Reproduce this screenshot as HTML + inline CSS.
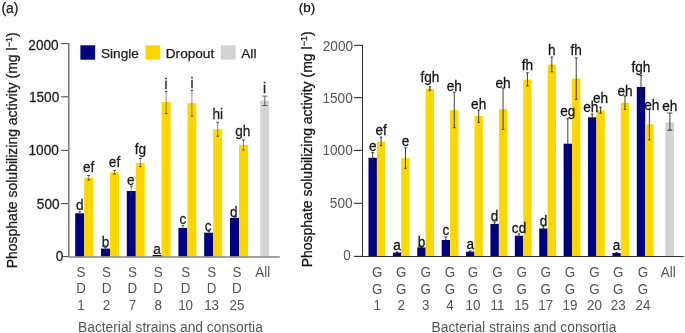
<!DOCTYPE html>
<html><head><meta charset="utf-8"><style>
html,body{margin:0;padding:0;background:#fff;width:685px;height:333px;overflow:hidden}
svg{display:block;font-family:'Liberation Sans', sans-serif}
.tx{filter:grayscale(1)}
.tx text{stroke:currentColor;stroke-width:0.25px}
.tx text[fill="#555"]{stroke:none}
</style></head><body>
<svg width="685" height="333" viewBox="0 0 685 333">
<rect width="685" height="333" fill="#fff"/>
<line x1="68.80" y1="43.10" x2="68.80" y2="257.10" stroke="#6e6e6e" stroke-width="1.4"/>
<line x1="61.20" y1="43.60" x2="68.30" y2="43.60" stroke="#4a4a4a" stroke-width="1.1"/>
<line x1="61.20" y1="96.80" x2="68.30" y2="96.80" stroke="#4a4a4a" stroke-width="1.1"/>
<line x1="61.20" y1="150.40" x2="68.30" y2="150.40" stroke="#4a4a4a" stroke-width="1.1"/>
<line x1="61.20" y1="203.60" x2="68.30" y2="203.60" stroke="#4a4a4a" stroke-width="1.1"/>
<line x1="62.80" y1="256.60" x2="68.30" y2="256.60" stroke="#4a4a4a" stroke-width="1.1"/>
<rect x="75.20" y="213.30" width="9.00" height="43.30" fill="#000080"/>
<rect x="84.20" y="177.80" width="9.00" height="78.80" fill="#FFD700"/>
<line x1="79.70" y1="211.80" x2="79.70" y2="214.80" stroke="#3a3a3a" stroke-width="0.6"/>
<line x1="78.40" y1="211.80" x2="81.00" y2="211.80" stroke="#1e1e1e" stroke-width="0.85"/>
<line x1="78.40" y1="214.80" x2="81.00" y2="214.80" stroke="#1e1e1e" stroke-width="0.85"/>
<line x1="88.70" y1="175.50" x2="88.70" y2="180.00" stroke="#3a3a3a" stroke-width="0.6"/>
<line x1="87.40" y1="175.50" x2="90.00" y2="175.50" stroke="#1e1e1e" stroke-width="0.85"/>
<line x1="87.40" y1="180.00" x2="90.00" y2="180.00" stroke="#1e1e1e" stroke-width="0.85"/>
<rect x="101.00" y="248.60" width="9.00" height="8.00" fill="#000080"/>
<rect x="110.00" y="172.40" width="9.00" height="84.20" fill="#FFD700"/>
<line x1="105.50" y1="247.60" x2="105.50" y2="249.60" stroke="#3a3a3a" stroke-width="0.6"/>
<line x1="104.20" y1="247.60" x2="106.80" y2="247.60" stroke="#1e1e1e" stroke-width="0.85"/>
<line x1="104.20" y1="249.60" x2="106.80" y2="249.60" stroke="#1e1e1e" stroke-width="0.85"/>
<line x1="114.50" y1="170.40" x2="114.50" y2="174.00" stroke="#3a3a3a" stroke-width="0.6"/>
<line x1="113.20" y1="170.40" x2="115.80" y2="170.40" stroke="#1e1e1e" stroke-width="0.85"/>
<line x1="113.20" y1="174.00" x2="115.80" y2="174.00" stroke="#1e1e1e" stroke-width="0.85"/>
<rect x="126.80" y="191.00" width="9.00" height="65.60" fill="#000080"/>
<rect x="135.80" y="163.00" width="9.00" height="93.60" fill="#FFD700"/>
<line x1="131.30" y1="186.10" x2="131.30" y2="195.10" stroke="#3a3a3a" stroke-width="0.6"/>
<line x1="130.00" y1="186.10" x2="132.60" y2="186.10" stroke="#1e1e1e" stroke-width="0.85"/>
<line x1="130.00" y1="195.10" x2="132.60" y2="195.10" stroke="#1e1e1e" stroke-width="0.85"/>
<line x1="140.30" y1="158.50" x2="140.30" y2="166.60" stroke="#3a3a3a" stroke-width="0.6"/>
<line x1="139.00" y1="158.50" x2="141.60" y2="158.50" stroke="#1e1e1e" stroke-width="0.85"/>
<line x1="139.00" y1="166.60" x2="141.60" y2="166.60" stroke="#1e1e1e" stroke-width="0.85"/>
<rect x="152.60" y="255.00" width="9.00" height="1.60" fill="#000080"/>
<rect x="161.60" y="102.00" width="9.00" height="154.60" fill="#FFD700"/>
<line x1="166.10" y1="91.30" x2="166.10" y2="113.40" stroke="#3a3a3a" stroke-width="0.6"/>
<line x1="164.80" y1="91.30" x2="167.40" y2="91.30" stroke="#1e1e1e" stroke-width="0.85"/>
<line x1="164.80" y1="113.40" x2="167.40" y2="113.40" stroke="#1e1e1e" stroke-width="0.85"/>
<rect x="178.40" y="227.90" width="9.00" height="28.70" fill="#000080"/>
<rect x="187.40" y="103.20" width="9.00" height="153.40" fill="#FFD700"/>
<line x1="182.90" y1="225.60" x2="182.90" y2="230.20" stroke="#3a3a3a" stroke-width="0.6"/>
<line x1="181.60" y1="225.60" x2="184.20" y2="225.60" stroke="#1e1e1e" stroke-width="0.85"/>
<line x1="181.60" y1="230.20" x2="184.20" y2="230.20" stroke="#1e1e1e" stroke-width="0.85"/>
<line x1="191.90" y1="90.30" x2="191.90" y2="116.20" stroke="#3a3a3a" stroke-width="0.6"/>
<line x1="190.60" y1="90.30" x2="193.20" y2="90.30" stroke="#1e1e1e" stroke-width="0.85"/>
<line x1="190.60" y1="116.20" x2="193.20" y2="116.20" stroke="#1e1e1e" stroke-width="0.85"/>
<rect x="204.20" y="232.70" width="9.00" height="23.90" fill="#000080"/>
<rect x="213.20" y="129.30" width="9.00" height="127.30" fill="#FFD700"/>
<line x1="208.70" y1="231.40" x2="208.70" y2="234.00" stroke="#3a3a3a" stroke-width="0.6"/>
<line x1="207.40" y1="231.40" x2="210.00" y2="231.40" stroke="#1e1e1e" stroke-width="0.85"/>
<line x1="207.40" y1="234.00" x2="210.00" y2="234.00" stroke="#1e1e1e" stroke-width="0.85"/>
<line x1="217.70" y1="122.20" x2="217.70" y2="136.20" stroke="#3a3a3a" stroke-width="0.6"/>
<line x1="216.40" y1="122.20" x2="219.00" y2="122.20" stroke="#1e1e1e" stroke-width="0.85"/>
<line x1="216.40" y1="136.20" x2="219.00" y2="136.20" stroke="#1e1e1e" stroke-width="0.85"/>
<rect x="230.00" y="217.90" width="9.00" height="38.70" fill="#000080"/>
<rect x="239.00" y="145.10" width="9.00" height="111.50" fill="#FFD700"/>
<line x1="234.50" y1="216.90" x2="234.50" y2="218.90" stroke="#3a3a3a" stroke-width="0.6"/>
<line x1="233.20" y1="216.90" x2="235.80" y2="216.90" stroke="#1e1e1e" stroke-width="0.85"/>
<line x1="233.20" y1="218.90" x2="235.80" y2="218.90" stroke="#1e1e1e" stroke-width="0.85"/>
<line x1="243.50" y1="140.00" x2="243.50" y2="149.90" stroke="#3a3a3a" stroke-width="0.6"/>
<line x1="242.20" y1="140.00" x2="244.80" y2="140.00" stroke="#1e1e1e" stroke-width="0.85"/>
<line x1="242.20" y1="149.90" x2="244.80" y2="149.90" stroke="#1e1e1e" stroke-width="0.85"/>
<rect x="260.20" y="100.50" width="8.80" height="156.10" fill="#D3D3D3"/>
<line x1="264.80" y1="96.10" x2="264.80" y2="105.50" stroke="#3a3a3a" stroke-width="0.75"/>
<line x1="262.15" y1="96.10" x2="267.45" y2="96.10" stroke="#3a3a3a" stroke-width="0.75"/>
<line x1="262.15" y1="105.50" x2="267.45" y2="105.50" stroke="#3a3a3a" stroke-width="0.75"/>
<rect x="80.40" y="45.30" width="14.70" height="14.40" fill="#000080"/>
<rect x="145.60" y="45.30" width="14.70" height="14.40" fill="#FFD700"/>
<rect x="220.80" y="45.30" width="14.80" height="14.40" fill="#D3D3D3"/>
<line x1="362.50" y1="44.80" x2="362.50" y2="256.90" stroke="#2e2e2e" stroke-width="1.0"/>
<line x1="353.90" y1="45.30" x2="362.50" y2="45.30" stroke="#2e2e2e" stroke-width="1.1"/>
<line x1="353.90" y1="97.70" x2="362.50" y2="97.70" stroke="#2e2e2e" stroke-width="1.1"/>
<line x1="353.90" y1="150.40" x2="362.50" y2="150.40" stroke="#2e2e2e" stroke-width="1.1"/>
<line x1="353.90" y1="203.30" x2="362.50" y2="203.30" stroke="#2e2e2e" stroke-width="1.1"/>
<line x1="353.90" y1="256.40" x2="362.50" y2="256.40" stroke="#2e2e2e" stroke-width="1.1"/>
<rect x="368.50" y="157.80" width="8.40" height="98.60" fill="#000080"/>
<rect x="376.90" y="141.60" width="8.40" height="114.80" fill="#FFD700"/>
<line x1="372.70" y1="152.40" x2="372.70" y2="162.70" stroke="#1e1e1e" stroke-width="0.85"/>
<line x1="371.40" y1="152.40" x2="374.00" y2="152.40" stroke="#1e1e1e" stroke-width="0.85"/>
<line x1="371.40" y1="162.70" x2="374.00" y2="162.70" stroke="#1e1e1e" stroke-width="0.85"/>
<line x1="381.10" y1="137.10" x2="381.10" y2="145.60" stroke="#1e1e1e" stroke-width="0.85"/>
<line x1="379.80" y1="137.10" x2="382.40" y2="137.10" stroke="#1e1e1e" stroke-width="0.85"/>
<line x1="379.80" y1="145.60" x2="382.40" y2="145.60" stroke="#1e1e1e" stroke-width="0.85"/>
<rect x="392.89" y="252.60" width="8.40" height="3.80" fill="#000080"/>
<rect x="401.29" y="158.20" width="8.40" height="98.20" fill="#FFD700"/>
<line x1="397.09" y1="252.00" x2="397.09" y2="253.20" stroke="#1e1e1e" stroke-width="0.85"/>
<line x1="395.79" y1="252.00" x2="398.39" y2="252.00" stroke="#1e1e1e" stroke-width="0.85"/>
<line x1="395.79" y1="253.20" x2="398.39" y2="253.20" stroke="#1e1e1e" stroke-width="0.85"/>
<line x1="405.49" y1="147.90" x2="405.49" y2="168.30" stroke="#1e1e1e" stroke-width="0.85"/>
<line x1="404.19" y1="147.90" x2="406.79" y2="147.90" stroke="#1e1e1e" stroke-width="0.85"/>
<line x1="404.19" y1="168.30" x2="406.79" y2="168.30" stroke="#1e1e1e" stroke-width="0.85"/>
<rect x="417.28" y="247.40" width="8.40" height="9.00" fill="#000080"/>
<rect x="425.68" y="88.80" width="8.40" height="167.60" fill="#FFD700"/>
<line x1="421.48" y1="246.60" x2="421.48" y2="248.20" stroke="#1e1e1e" stroke-width="0.85"/>
<line x1="420.18" y1="246.60" x2="422.78" y2="246.60" stroke="#1e1e1e" stroke-width="0.85"/>
<line x1="420.18" y1="248.20" x2="422.78" y2="248.20" stroke="#1e1e1e" stroke-width="0.85"/>
<line x1="429.88" y1="86.70" x2="429.88" y2="90.30" stroke="#1e1e1e" stroke-width="0.85"/>
<line x1="428.58" y1="86.70" x2="431.18" y2="86.70" stroke="#1e1e1e" stroke-width="0.85"/>
<line x1="428.58" y1="90.30" x2="431.18" y2="90.30" stroke="#1e1e1e" stroke-width="0.85"/>
<rect x="441.67" y="240.00" width="8.40" height="16.40" fill="#000080"/>
<rect x="450.07" y="110.10" width="8.40" height="146.30" fill="#FFD700"/>
<line x1="445.87" y1="236.90" x2="445.87" y2="243.20" stroke="#1e1e1e" stroke-width="0.85"/>
<line x1="444.57" y1="236.90" x2="447.17" y2="236.90" stroke="#1e1e1e" stroke-width="0.85"/>
<line x1="444.57" y1="243.20" x2="447.17" y2="243.20" stroke="#1e1e1e" stroke-width="0.85"/>
<line x1="454.27" y1="92.30" x2="454.27" y2="127.70" stroke="#1e1e1e" stroke-width="0.85"/>
<line x1="452.97" y1="92.30" x2="455.57" y2="92.30" stroke="#1e1e1e" stroke-width="0.85"/>
<line x1="452.97" y1="127.70" x2="455.57" y2="127.70" stroke="#1e1e1e" stroke-width="0.85"/>
<rect x="466.06" y="251.70" width="8.40" height="4.70" fill="#000080"/>
<rect x="474.46" y="116.00" width="8.40" height="140.40" fill="#FFD700"/>
<line x1="470.26" y1="251.00" x2="470.26" y2="252.40" stroke="#1e1e1e" stroke-width="0.85"/>
<line x1="468.96" y1="251.00" x2="471.56" y2="251.00" stroke="#1e1e1e" stroke-width="0.85"/>
<line x1="468.96" y1="252.40" x2="471.56" y2="252.40" stroke="#1e1e1e" stroke-width="0.85"/>
<line x1="478.66" y1="110.10" x2="478.66" y2="122.30" stroke="#1e1e1e" stroke-width="0.85"/>
<line x1="477.36" y1="110.10" x2="479.96" y2="110.10" stroke="#1e1e1e" stroke-width="0.85"/>
<line x1="477.36" y1="122.30" x2="479.96" y2="122.30" stroke="#1e1e1e" stroke-width="0.85"/>
<rect x="490.45" y="223.90" width="8.40" height="32.50" fill="#000080"/>
<rect x="498.85" y="109.20" width="8.40" height="147.20" fill="#FFD700"/>
<line x1="494.65" y1="221.90" x2="494.65" y2="226.00" stroke="#1e1e1e" stroke-width="0.85"/>
<line x1="493.35" y1="221.90" x2="495.95" y2="221.90" stroke="#1e1e1e" stroke-width="0.85"/>
<line x1="493.35" y1="226.00" x2="495.95" y2="226.00" stroke="#1e1e1e" stroke-width="0.85"/>
<line x1="503.05" y1="88.10" x2="503.05" y2="129.50" stroke="#1e1e1e" stroke-width="0.85"/>
<line x1="501.75" y1="88.10" x2="504.35" y2="88.10" stroke="#1e1e1e" stroke-width="0.85"/>
<line x1="501.75" y1="129.50" x2="504.35" y2="129.50" stroke="#1e1e1e" stroke-width="0.85"/>
<rect x="514.84" y="235.70" width="8.40" height="20.70" fill="#000080"/>
<rect x="523.24" y="79.60" width="8.40" height="176.80" fill="#FFD700"/>
<line x1="519.04" y1="233.90" x2="519.04" y2="237.80" stroke="#1e1e1e" stroke-width="0.85"/>
<line x1="517.74" y1="233.90" x2="520.34" y2="233.90" stroke="#1e1e1e" stroke-width="0.85"/>
<line x1="517.74" y1="237.80" x2="520.34" y2="237.80" stroke="#1e1e1e" stroke-width="0.85"/>
<line x1="527.44" y1="72.80" x2="527.44" y2="85.90" stroke="#1e1e1e" stroke-width="0.85"/>
<line x1="526.14" y1="72.80" x2="528.74" y2="72.80" stroke="#1e1e1e" stroke-width="0.85"/>
<line x1="526.14" y1="85.90" x2="528.74" y2="85.90" stroke="#1e1e1e" stroke-width="0.85"/>
<rect x="539.23" y="228.50" width="8.40" height="27.90" fill="#000080"/>
<rect x="547.63" y="64.60" width="8.40" height="191.80" fill="#FFD700"/>
<line x1="543.43" y1="226.80" x2="543.43" y2="230.20" stroke="#1e1e1e" stroke-width="0.85"/>
<line x1="542.13" y1="226.80" x2="544.73" y2="226.80" stroke="#1e1e1e" stroke-width="0.85"/>
<line x1="542.13" y1="230.20" x2="544.73" y2="230.20" stroke="#1e1e1e" stroke-width="0.85"/>
<line x1="551.83" y1="57.00" x2="551.83" y2="71.80" stroke="#1e1e1e" stroke-width="0.85"/>
<line x1="550.53" y1="57.00" x2="553.13" y2="57.00" stroke="#1e1e1e" stroke-width="0.85"/>
<line x1="550.53" y1="71.80" x2="553.13" y2="71.80" stroke="#1e1e1e" stroke-width="0.85"/>
<rect x="563.62" y="143.70" width="8.40" height="112.70" fill="#000080"/>
<rect x="572.02" y="78.60" width="8.40" height="177.80" fill="#FFD700"/>
<line x1="567.82" y1="118.40" x2="567.82" y2="168.80" stroke="#1e1e1e" stroke-width="0.85"/>
<line x1="566.52" y1="118.40" x2="569.12" y2="118.40" stroke="#1e1e1e" stroke-width="0.85"/>
<line x1="566.52" y1="168.80" x2="569.12" y2="168.80" stroke="#1e1e1e" stroke-width="0.85"/>
<line x1="576.22" y1="57.90" x2="576.22" y2="99.30" stroke="#1e1e1e" stroke-width="0.85"/>
<line x1="574.92" y1="57.90" x2="577.52" y2="57.90" stroke="#1e1e1e" stroke-width="0.85"/>
<line x1="574.92" y1="99.30" x2="577.52" y2="99.30" stroke="#1e1e1e" stroke-width="0.85"/>
<rect x="588.01" y="117.30" width="8.40" height="139.10" fill="#000080"/>
<rect x="596.41" y="110.50" width="8.40" height="145.90" fill="#FFD700"/>
<line x1="592.21" y1="114.00" x2="592.21" y2="120.60" stroke="#1e1e1e" stroke-width="0.85"/>
<line x1="590.91" y1="114.00" x2="593.51" y2="114.00" stroke="#1e1e1e" stroke-width="0.85"/>
<line x1="590.91" y1="120.60" x2="593.51" y2="120.60" stroke="#1e1e1e" stroke-width="0.85"/>
<line x1="600.61" y1="107.20" x2="600.61" y2="113.20" stroke="#1e1e1e" stroke-width="0.85"/>
<line x1="599.31" y1="107.20" x2="601.91" y2="107.20" stroke="#1e1e1e" stroke-width="0.85"/>
<line x1="599.31" y1="113.20" x2="601.91" y2="113.20" stroke="#1e1e1e" stroke-width="0.85"/>
<rect x="612.40" y="253.00" width="8.40" height="3.40" fill="#000080"/>
<rect x="620.80" y="102.80" width="8.40" height="153.60" fill="#FFD700"/>
<line x1="616.60" y1="252.40" x2="616.60" y2="253.60" stroke="#1e1e1e" stroke-width="0.85"/>
<line x1="615.30" y1="252.40" x2="617.90" y2="252.40" stroke="#1e1e1e" stroke-width="0.85"/>
<line x1="615.30" y1="253.60" x2="617.90" y2="253.60" stroke="#1e1e1e" stroke-width="0.85"/>
<line x1="625.00" y1="96.00" x2="625.00" y2="109.30" stroke="#1e1e1e" stroke-width="0.85"/>
<line x1="623.70" y1="96.00" x2="626.30" y2="96.00" stroke="#1e1e1e" stroke-width="0.85"/>
<line x1="623.70" y1="109.30" x2="626.30" y2="109.30" stroke="#1e1e1e" stroke-width="0.85"/>
<rect x="636.79" y="87.00" width="8.40" height="169.40" fill="#000080"/>
<rect x="645.19" y="124.40" width="8.40" height="132.00" fill="#FFD700"/>
<line x1="640.99" y1="75.40" x2="640.99" y2="98.40" stroke="#1e1e1e" stroke-width="0.85"/>
<line x1="639.69" y1="75.40" x2="642.29" y2="75.40" stroke="#1e1e1e" stroke-width="0.85"/>
<line x1="639.69" y1="98.40" x2="642.29" y2="98.40" stroke="#1e1e1e" stroke-width="0.85"/>
<line x1="649.39" y1="109.30" x2="649.39" y2="139.90" stroke="#1e1e1e" stroke-width="0.85"/>
<line x1="648.09" y1="109.30" x2="650.69" y2="109.30" stroke="#1e1e1e" stroke-width="0.85"/>
<line x1="648.09" y1="139.90" x2="650.69" y2="139.90" stroke="#1e1e1e" stroke-width="0.85"/>
<rect x="665.40" y="122.30" width="8.70" height="134.10" fill="#D3D3D3"/>
<line x1="669.90" y1="113.00" x2="669.90" y2="130.20" stroke="#1e1e1e" stroke-width="0.85"/>
<line x1="667.40" y1="113.00" x2="672.40" y2="113.00" stroke="#1e1e1e" stroke-width="0.85"/>
<line x1="667.40" y1="130.20" x2="672.40" y2="130.20" stroke="#1e1e1e" stroke-width="0.85"/>
<line x1="68.80" y1="257.00" x2="279.80" y2="257.00" stroke="#858585" stroke-width="1.5"/>
<line x1="362.50" y1="256.50" x2="683.70" y2="256.50" stroke="#2e2e2e" stroke-width="1.2"/>
<g class="tx">
<text transform="translate(58.60,50.10) scale(1,1.04)" font-size="13.6" text-anchor="end" fill="#1a1a1a" style="color:#1a1a1a">2000</text>
<text transform="translate(59.20,101.80) scale(1,1.04)" font-size="13.6" text-anchor="end" fill="#1a1a1a" style="color:#1a1a1a">1500</text>
<text transform="translate(58.80,154.80) scale(1,1.04)" font-size="13.6" text-anchor="end" fill="#1a1a1a" style="color:#1a1a1a">1000</text>
<text transform="translate(59.50,208.70) scale(1,1.04)" font-size="13.6" text-anchor="end" fill="#1a1a1a" style="color:#1a1a1a">500</text>
<text transform="translate(63.30,261.30) scale(1,1.04)" font-size="13.6" text-anchor="end" fill="#1a1a1a" style="color:#1a1a1a">0</text>
<text transform="translate(79.70,209.80) scale(1,1.04)" font-size="13.6" text-anchor="middle" fill="#1a1a1a" style="color:#1a1a1a">d</text>
<text transform="translate(88.70,171.70) scale(1,1.04)" font-size="13.6" text-anchor="middle" fill="#1a1a1a" style="color:#1a1a1a">ef</text>
<text transform="translate(81.00,277.20) scale(1,1.04)" font-size="13.4" text-anchor="middle" fill="#555" style="color:#555">S</text>
<text transform="translate(81.00,293.40) scale(1,1.04)" font-size="13.4" text-anchor="middle" fill="#555" style="color:#555">D</text>
<text transform="translate(81.00,309.90) scale(1,1.04)" font-size="13.4" text-anchor="middle" fill="#555" style="color:#555">1</text>
<text transform="translate(105.50,246.70) scale(1,1.04)" font-size="13.6" text-anchor="middle" fill="#1a1a1a" style="color:#1a1a1a">b</text>
<text transform="translate(114.50,167.40) scale(1,1.04)" font-size="13.6" text-anchor="middle" fill="#1a1a1a" style="color:#1a1a1a">ef</text>
<text transform="translate(106.50,277.20) scale(1,1.04)" font-size="13.4" text-anchor="middle" fill="#555" style="color:#555">S</text>
<text transform="translate(106.50,293.40) scale(1,1.04)" font-size="13.4" text-anchor="middle" fill="#555" style="color:#555">D</text>
<text transform="translate(106.50,309.90) scale(1,1.04)" font-size="13.4" text-anchor="middle" fill="#555" style="color:#555">2</text>
<text transform="translate(130.70,185.30) scale(1,1.04)" font-size="13.6" text-anchor="middle" fill="#1a1a1a" style="color:#1a1a1a">e</text>
<text transform="translate(140.30,154.40) scale(1,1.04)" font-size="13.6" text-anchor="middle" fill="#1a1a1a" style="color:#1a1a1a">fg</text>
<text transform="translate(132.40,277.20) scale(1,1.04)" font-size="13.4" text-anchor="middle" fill="#555" style="color:#555">S</text>
<text transform="translate(132.40,293.40) scale(1,1.04)" font-size="13.4" text-anchor="middle" fill="#555" style="color:#555">D</text>
<text transform="translate(132.40,309.90) scale(1,1.04)" font-size="13.4" text-anchor="middle" fill="#555" style="color:#555">7</text>
<text transform="translate(157.10,254.10) scale(1,1.04)" font-size="13.6" text-anchor="middle" fill="#1a1a1a" style="color:#1a1a1a">a</text>
<text transform="translate(166.10,88.80) scale(1,1.04)" font-size="13.6" text-anchor="middle" fill="#1a1a1a" style="color:#1a1a1a">i</text>
<text transform="translate(158.10,277.20) scale(1,1.04)" font-size="13.4" text-anchor="middle" fill="#555" style="color:#555">S</text>
<text transform="translate(158.10,293.40) scale(1,1.04)" font-size="13.4" text-anchor="middle" fill="#555" style="color:#555">D</text>
<text transform="translate(158.10,309.90) scale(1,1.04)" font-size="13.4" text-anchor="middle" fill="#555" style="color:#555">8</text>
<text transform="translate(182.90,224.40) scale(1,1.04)" font-size="13.6" text-anchor="middle" fill="#1a1a1a" style="color:#1a1a1a">c</text>
<text transform="translate(191.90,87.90) scale(1,1.04)" font-size="13.6" text-anchor="middle" fill="#1a1a1a" style="color:#1a1a1a">i</text>
<text transform="translate(185.60,277.20) scale(1,1.04)" font-size="13.4" text-anchor="middle" fill="#555" style="color:#555">S</text>
<text transform="translate(185.60,293.40) scale(1,1.04)" font-size="13.4" text-anchor="middle" fill="#555" style="color:#555">D</text>
<text transform="translate(185.60,309.90) scale(1,1.04)" font-size="13.4" text-anchor="middle" fill="#555" style="color:#555">10</text>
<text transform="translate(208.10,231.30) scale(1,1.04)" font-size="13.6" text-anchor="middle" fill="#1a1a1a" style="color:#1a1a1a">c</text>
<text transform="translate(217.70,119.00) scale(1,1.04)" font-size="13.6" text-anchor="middle" fill="#1a1a1a" style="color:#1a1a1a">hi</text>
<text transform="translate(211.60,277.20) scale(1,1.04)" font-size="13.4" text-anchor="middle" fill="#555" style="color:#555">S</text>
<text transform="translate(211.60,293.40) scale(1,1.04)" font-size="13.4" text-anchor="middle" fill="#555" style="color:#555">D</text>
<text transform="translate(211.60,309.90) scale(1,1.04)" font-size="13.4" text-anchor="middle" fill="#555" style="color:#555">13</text>
<text transform="translate(233.90,216.50) scale(1,1.04)" font-size="13.6" text-anchor="middle" fill="#1a1a1a" style="color:#1a1a1a">d</text>
<text transform="translate(242.70,136.00) scale(1,1.04)" font-size="13.6" text-anchor="middle" fill="#1a1a1a" style="color:#1a1a1a">gh</text>
<text transform="translate(236.90,277.20) scale(1,1.04)" font-size="13.4" text-anchor="middle" fill="#555" style="color:#555">S</text>
<text transform="translate(236.90,293.40) scale(1,1.04)" font-size="13.4" text-anchor="middle" fill="#555" style="color:#555">D</text>
<text transform="translate(236.90,309.90) scale(1,1.04)" font-size="13.4" text-anchor="middle" fill="#555" style="color:#555">25</text>
<text transform="translate(264.60,92.70) scale(1,1.04)" font-size="13.6" text-anchor="middle" fill="#1a1a1a" style="color:#1a1a1a">i</text>
<text transform="translate(262.70,277.20) scale(1,1.04)" font-size="13.4" text-anchor="middle" fill="#555" style="color:#555">All</text>
<text x="78.00" y="331.60" font-size="13.8" text-anchor="start" fill="#555" style="color:#555">Bacterial strains and consortia</text>
<text x="101.00" y="57.70" font-size="13.6" text-anchor="start" fill="#1a1a1a" style="color:#1a1a1a">Single</text>
<text x="165.80" y="57.70" font-size="13.6" text-anchor="start" fill="#1a1a1a" style="color:#1a1a1a">Dropout</text>
<text x="241.30" y="57.70" font-size="13.6" text-anchor="start" fill="#1a1a1a" style="color:#1a1a1a">All</text>
<text x="1.50" y="12.90" font-size="13.8" text-anchor="start" fill="#1a1a1a" style="color:#1a1a1a">(a)</text>
<text transform="translate(17.3,150.4) rotate(-90)" font-size="14.0" text-anchor="middle" fill="#1a1a1a" style="color:#1a1a1a">Phosphate solubilizing activity (mg l<tspan font-size="9" dy="-5">−1</tspan><tspan dy="5">)</tspan></text>
<text transform="translate(353.00,50.70) scale(1,1.04)" font-size="13.6" text-anchor="end" fill="#555" style="color:#555">2000</text>
<text transform="translate(352.70,102.60) scale(1,1.04)" font-size="13.6" text-anchor="end" fill="#555" style="color:#555">1500</text>
<text transform="translate(352.70,154.90) scale(1,1.04)" font-size="13.6" text-anchor="end" fill="#555" style="color:#555">1000</text>
<text transform="translate(352.50,207.60) scale(1,1.04)" font-size="13.6" text-anchor="end" fill="#555" style="color:#555">500</text>
<text transform="translate(350.90,259.60) scale(1,1.04)" font-size="13.6" text-anchor="end" fill="#555" style="color:#555">0</text>
<text transform="translate(372.70,151.10) scale(1,1.04)" font-size="13.6" text-anchor="middle" fill="#111" style="color:#111">e</text>
<text transform="translate(381.10,135.20) scale(1,1.04)" font-size="13.6" text-anchor="middle" fill="#111" style="color:#111">ef</text>
<text transform="translate(377.20,277.40) scale(1,1.04)" font-size="13.4" text-anchor="middle" fill="#555" style="color:#555">G</text>
<text transform="translate(377.20,293.80) scale(1,1.04)" font-size="13.4" text-anchor="middle" fill="#555" style="color:#555">G</text>
<text transform="translate(377.20,310.30) scale(1,1.04)" font-size="13.4" text-anchor="middle" fill="#555" style="color:#555">1</text>
<text transform="translate(397.09,250.30) scale(1,1.04)" font-size="13.6" text-anchor="middle" fill="#111" style="color:#111">a</text>
<text transform="translate(405.49,146.00) scale(1,1.04)" font-size="13.6" text-anchor="middle" fill="#111" style="color:#111">e</text>
<text transform="translate(401.30,277.40) scale(1,1.04)" font-size="13.4" text-anchor="middle" fill="#555" style="color:#555">G</text>
<text transform="translate(401.30,293.80) scale(1,1.04)" font-size="13.4" text-anchor="middle" fill="#555" style="color:#555">G</text>
<text transform="translate(401.30,310.30) scale(1,1.04)" font-size="13.4" text-anchor="middle" fill="#555" style="color:#555">2</text>
<text transform="translate(421.48,246.80) scale(1,1.04)" font-size="13.6" text-anchor="middle" fill="#111" style="color:#111">b</text>
<text transform="translate(429.88,82.10) scale(1,1.04)" font-size="13.6" text-anchor="middle" fill="#111" style="color:#111">fgh</text>
<text transform="translate(425.80,277.40) scale(1,1.04)" font-size="13.4" text-anchor="middle" fill="#555" style="color:#555">G</text>
<text transform="translate(425.80,293.80) scale(1,1.04)" font-size="13.4" text-anchor="middle" fill="#555" style="color:#555">G</text>
<text transform="translate(425.80,310.30) scale(1,1.04)" font-size="13.4" text-anchor="middle" fill="#555" style="color:#555">3</text>
<text transform="translate(445.87,235.00) scale(1,1.04)" font-size="13.6" text-anchor="middle" fill="#111" style="color:#111">c</text>
<text transform="translate(454.27,90.70) scale(1,1.04)" font-size="13.6" text-anchor="middle" fill="#111" style="color:#111">eh</text>
<text transform="translate(450.00,277.40) scale(1,1.04)" font-size="13.4" text-anchor="middle" fill="#555" style="color:#555">G</text>
<text transform="translate(450.00,293.80) scale(1,1.04)" font-size="13.4" text-anchor="middle" fill="#555" style="color:#555">G</text>
<text transform="translate(450.00,310.30) scale(1,1.04)" font-size="13.4" text-anchor="middle" fill="#555" style="color:#555">4</text>
<text transform="translate(470.26,249.40) scale(1,1.04)" font-size="13.6" text-anchor="middle" fill="#111" style="color:#111">a</text>
<text transform="translate(478.66,108.70) scale(1,1.04)" font-size="13.6" text-anchor="middle" fill="#111" style="color:#111">eh</text>
<text transform="translate(473.00,277.40) scale(1,1.04)" font-size="13.4" text-anchor="middle" fill="#555" style="color:#555">G</text>
<text transform="translate(473.00,293.80) scale(1,1.04)" font-size="13.4" text-anchor="middle" fill="#555" style="color:#555">G</text>
<text transform="translate(473.00,310.30) scale(1,1.04)" font-size="13.4" text-anchor="middle" fill="#555" style="color:#555">10</text>
<text transform="translate(494.65,220.50) scale(1,1.04)" font-size="13.6" text-anchor="middle" fill="#111" style="color:#111">d</text>
<text transform="translate(503.05,88.00) scale(1,1.04)" font-size="13.6" text-anchor="middle" fill="#111" style="color:#111">eh</text>
<text transform="translate(497.50,277.40) scale(1,1.04)" font-size="13.4" text-anchor="middle" fill="#555" style="color:#555">G</text>
<text transform="translate(497.50,293.80) scale(1,1.04)" font-size="13.4" text-anchor="middle" fill="#555" style="color:#555">G</text>
<text transform="translate(497.50,310.30) scale(1,1.04)" font-size="13.4" text-anchor="middle" fill="#555" style="color:#555">11</text>
<text transform="translate(519.04,232.90) scale(1,1.04)" font-size="13.6" text-anchor="middle" fill="#111" style="color:#111">cd</text>
<text transform="translate(527.44,70.00) scale(1,1.04)" font-size="13.6" text-anchor="middle" fill="#111" style="color:#111">fh</text>
<text transform="translate(521.60,277.40) scale(1,1.04)" font-size="13.4" text-anchor="middle" fill="#555" style="color:#555">G</text>
<text transform="translate(521.60,293.80) scale(1,1.04)" font-size="13.4" text-anchor="middle" fill="#555" style="color:#555">G</text>
<text transform="translate(521.60,310.30) scale(1,1.04)" font-size="13.4" text-anchor="middle" fill="#555" style="color:#555">15</text>
<text transform="translate(543.43,226.00) scale(1,1.04)" font-size="13.6" text-anchor="middle" fill="#111" style="color:#111">d</text>
<text transform="translate(551.83,55.10) scale(1,1.04)" font-size="13.6" text-anchor="middle" fill="#111" style="color:#111">h</text>
<text transform="translate(545.70,277.40) scale(1,1.04)" font-size="13.4" text-anchor="middle" fill="#555" style="color:#555">G</text>
<text transform="translate(545.70,293.80) scale(1,1.04)" font-size="13.4" text-anchor="middle" fill="#555" style="color:#555">G</text>
<text transform="translate(545.70,310.30) scale(1,1.04)" font-size="13.4" text-anchor="middle" fill="#555" style="color:#555">17</text>
<text transform="translate(567.82,115.90) scale(1,1.04)" font-size="13.6" text-anchor="middle" fill="#111" style="color:#111">eg</text>
<text transform="translate(576.22,55.10) scale(1,1.04)" font-size="13.6" text-anchor="middle" fill="#111" style="color:#111">fh</text>
<text transform="translate(569.90,277.40) scale(1,1.04)" font-size="13.4" text-anchor="middle" fill="#555" style="color:#555">G</text>
<text transform="translate(569.90,293.80) scale(1,1.04)" font-size="13.4" text-anchor="middle" fill="#555" style="color:#555">G</text>
<text transform="translate(569.90,310.30) scale(1,1.04)" font-size="13.4" text-anchor="middle" fill="#555" style="color:#555">19</text>
<text transform="translate(590.81,111.60) scale(1,1.04)" font-size="13.6" text-anchor="middle" fill="#111" style="color:#111">eh</text>
<text transform="translate(600.61,102.60) scale(1,1.04)" font-size="13.6" text-anchor="middle" fill="#111" style="color:#111">eh</text>
<text transform="translate(594.40,277.40) scale(1,1.04)" font-size="13.4" text-anchor="middle" fill="#555" style="color:#555">G</text>
<text transform="translate(594.40,293.80) scale(1,1.04)" font-size="13.4" text-anchor="middle" fill="#555" style="color:#555">G</text>
<text transform="translate(594.40,310.30) scale(1,1.04)" font-size="13.4" text-anchor="middle" fill="#555" style="color:#555">20</text>
<text transform="translate(616.60,250.00) scale(1,1.04)" font-size="13.6" text-anchor="middle" fill="#111" style="color:#111">a</text>
<text transform="translate(625.00,96.00) scale(1,1.04)" font-size="13.6" text-anchor="middle" fill="#111" style="color:#111">eh</text>
<text transform="translate(618.30,277.40) scale(1,1.04)" font-size="13.4" text-anchor="middle" fill="#555" style="color:#555">G</text>
<text transform="translate(618.30,293.80) scale(1,1.04)" font-size="13.4" text-anchor="middle" fill="#555" style="color:#555">G</text>
<text transform="translate(618.30,310.30) scale(1,1.04)" font-size="13.4" text-anchor="middle" fill="#555" style="color:#555">23</text>
<text transform="translate(640.99,71.60) scale(1,1.04)" font-size="13.6" text-anchor="middle" fill="#111" style="color:#111">fgh</text>
<text transform="translate(651.79,109.50) scale(1,1.04)" font-size="13.6" text-anchor="middle" fill="#111" style="color:#111">eh</text>
<text transform="translate(643.00,277.40) scale(1,1.04)" font-size="13.4" text-anchor="middle" fill="#555" style="color:#555">G</text>
<text transform="translate(643.00,293.80) scale(1,1.04)" font-size="13.4" text-anchor="middle" fill="#555" style="color:#555">G</text>
<text transform="translate(643.00,310.30) scale(1,1.04)" font-size="13.4" text-anchor="middle" fill="#555" style="color:#555">24</text>
<text transform="translate(669.75,110.90) scale(1,1.04)" font-size="13.6" text-anchor="middle" fill="#111" style="color:#111">eh</text>
<text transform="translate(668.20,277.40) scale(1,1.04)" font-size="13.4" text-anchor="middle" fill="#555" style="color:#555">All</text>
<text x="431.50" y="331.60" font-size="13.8" text-anchor="start" fill="#555" style="color:#555">Bacterial strains and consortia</text>
<text x="298.80" y="11.70" font-size="13.4" text-anchor="start" fill="#111" style="color:#111">(b)</text>
<text transform="translate(312.3,149.4) rotate(-90)" font-size="14.0" text-anchor="middle" fill="#111" style="color:#111">Phosphate solubilizing activity (mg l<tspan font-size="9" dy="-5">−1</tspan><tspan dy="5">)</tspan></text>
</g>
</svg></body></html>
